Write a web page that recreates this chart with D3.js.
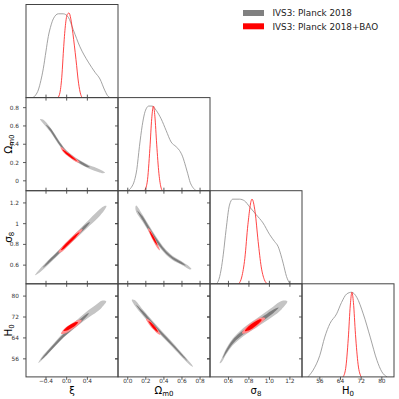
<!DOCTYPE html>
<html>
<head>
<meta charset="utf-8">
<script src="https://cdn.jsdelivr.net/npm/d3@7"></script>
<style>
body { margin: 0; background: #fff; }
text { font-family: "DejaVu Sans", sans-serif; }
</style>
</head>
<body>
<script>
// parameter ranges and ticks
var names = ["xi", "om", "s8", "h0"];
var xiDomain = [-0.787, 0.993];
var omDomain = [-0.108, 0.91];
var s8Domain = [0.42, 1.318];
var h0Domain = [49.1, 84.7];
var xiTicks = [-0.4, 0, 0.4];
var omTicks = [0, 0.2, 0.4, 0.6, 0.8];
var s8Ticks = [0.6, 0.8, 1.0, 1.2];
var h0Ticks = [56, 64, 72, 80];
var xiXLabels = ["\u22120.4", "0.0", "0.4"];
var omXLabels = ["0.0", "0.2", "0.4", "0.6", "0.8"];
var omYLabels = ["0", "0.2", "0.4", "0.6", "0.8"];
var s8XLabels = ["0.6", "0.8", "1.0", "1.2"];
var s8YLabels = ["0.6", "0.8", "1", "1.2"];
var h0Labels = ["56", "64", "72", "80"];
var legendLabels = ["IVS3: Planck 2018", "IVS3: Planck 2018+BAO"];

// 1D marginals [value, relative density]
var xiGrey = [[-0.652,0],[-0.60,0.03],[-0.549,0.09],[-0.50,0.2],[-0.453,0.34],[-0.40,0.55],[-0.356,0.72],[-0.30,0.86],[-0.259,0.93],[-0.162,0.99],[-0.066,0.99],[0.031,0.95],[0.128,0.80],[0.257,0.60],[0.418,0.42],[0.547,0.30],[0.644,0.22],[0.741,0.08],[0.80,0.015],[0.84,0]];
var xiRed = [[-0.17,0],[-0.13,0.06],[-0.09,0.28],[-0.066,0.52],[-0.03,0.82],[0.01,0.98],[0.045,1.0],[0.08,0.93],[0.12,0.76],[0.18,0.45],[0.23,0.17],[0.27,0.04],[0.3,0]];
var omGrey = [[0.0,0],[0.04,0.04],[0.074,0.12],[0.10,0.25],[0.129,0.52],[0.16,0.77],[0.185,0.91],[0.21,0.98],[0.232,1.0],[0.27,1.0],[0.314,0.95],[0.369,0.85],[0.425,0.71],[0.48,0.575],[0.535,0.52],[0.572,0.476],[0.608,0.40],[0.64,0.29],[0.664,0.20],[0.69,0.10],[0.719,0.04],[0.757,0]];
var omRed = [[0.185,0],[0.215,0.1],[0.245,0.5],[0.265,0.85],[0.284,1],[0.30,0.88],[0.32,0.55],[0.345,0.2],[0.37,0.03],[0.385,0]];
var s8Grey = [[0.479,0],[0.50,0.03],[0.528,0.165],[0.55,0.35],[0.577,0.64],[0.61,0.93],[0.642,1.0],[0.708,1.0],[0.757,0.98],[0.806,0.91],[0.872,0.815],[0.937,0.72],[1.003,0.58],[1.05,0.50],[1.085,0.44],[1.11,0.35],[1.134,0.244],[1.167,0.086],[1.2,0]];
var s8Red = [[0.70,0],[0.73,0.08],[0.76,0.3],[0.79,0.7],[0.83,1.0],[0.86,0.85],[0.89,0.5],[0.92,0.2],[0.95,0.05],[0.98,0]];
var h0Grey = [[51.4,0],[53.4,0.08],[56,0.255],[57.9,0.47],[59.9,0.63],[62.5,0.745],[64.4,0.88],[66.4,0.98],[68.3,1.0],[70.3,0.94],[72.8,0.745],[75.5,0.47],[78.1,0.196],[80,0.06],[82,0]];
var h0Red = [[65.0,0],[66.0,0.1],[67.0,0.45],[67.8,0.85],[68.4,1.0],[69.0,0.88],[69.8,0.5],[70.8,0.15],[72,0]];

// 2D contours: ridge [x, y, half-thickness in y units]
var omXiG95 = [[-0.516,0.674,0],[-0.458,0.650,0.020],[-0.323,0.564,0.024],[-0.130,0.401,0.024],[0.0,0.309,0.022],[0.193,0.226,0.020],[0.387,0.164,0.019],[0.580,0.120,0.019],[0.683,0.098,0.014],[0.741,0.087,0]];
var omXiG68 = [[-0.40,0.613,0],[-0.323,0.564,0.015],[-0.130,0.401,0.015],[0.0,0.309,0.014],[0.193,0.226,0.013],[0.387,0.164,0.012],[0.451,0.150,0]];
var omXiR95 = [[-0.120,0.366,0],[-0.091,0.349,0.017],[0,0.300,0.021],[0.103,0.257,0.021],[0.199,0.218,0.016],[0.257,0.202,0]];
var omXiR68 = [[-0.081,0.341,0],[0,0.300,0.013],[0.103,0.257,0.013],[0.199,0.218,0]];

var s8XiG95 = [[-0.613,0.503,0],[-0.516,0.549,0.017],[-0.323,0.642,0.021],[-0.130,0.736,0.023],[0.064,0.829,0.026],[0.257,0.922,0.029],[0.451,1.016,0.032],[0.644,1.109,0.032],[0.721,1.146,0.022],[0.770,1.170,0]];
var s8XiG68 = [[-0.458,0.578,0],[-0.381,0.615,0.011],[-0.130,0.736,0.014],[0.064,0.829,0.015],[0.257,0.922,0.016],[0.393,0.988,0.013],[0.451,1.016,0]];
var s8XiR95 = [[-0.159,0.722,0],[-0.110,0.745,0.02],[0,0.799,0.026],[0.122,0.858,0.026],[0.238,0.914,0.02],[0.306,0.947,0]];
var s8XiR68 = [[-0.110,0.745,0],[-0.052,0.773,0.014],[0.064,0.829,0.016],[0.180,0.885,0.013],[0.248,0.918,0]];

var h0XiG95 = [[-0.549,54.39,0],[-0.478,56.2,0.6],[-0.387,58.14,0.75],[-0.226,61.62,0.86],[-0.066,65.0,0.97],[0.097,67.89,1.12],[0.257,70.62,1.27],[0.418,73.14,1.42],[0.580,75.39,1.5],[0.677,76.89,1.31],[0.765,78.0,0]];
var h0XiG68 = [[-0.50,55.6,0],[-0.387,58.0,0.5],[-0.226,61.5,0.6],[-0.066,64.8,0.65],[0.097,67.7,0.7],[0.257,70.4,0.7],[0.38,72.6,0.5],[0.43,73.4,0]];
var h0XiR95 = [[-0.110,65.64,0],[-0.052,66.5,0.94],[0.097,68.3,1.2],[0.219,69.87,0.97],[0.290,70.81,0]];
var h0XiR68 = [[-0.062,66.69,0],[0.006,67.51,0.71],[0.103,68.64,0.75],[0.180,69.5,0.56],[0.219,69.95,0]];

var s8OmG95 = [[0.085,1.16,0],[0.093,1.144,0.032],[0.166,1.05,0.034],[0.221,0.971,0.033],[0.277,0.893,0.031],[0.351,0.80,0.027],[0.425,0.722,0.023],[0.498,0.668,0.02],[0.591,0.622,0.017],[0.683,0.572,0.013],[0.705,0.562,0]];
var s8OmG68 = [[0.105,1.128,0],[0.166,1.05,0.018],[0.221,0.971,0.019],[0.277,0.893,0.018],[0.351,0.80,0.016],[0.425,0.722,0.013],[0.498,0.668,0.011],[0.591,0.622,0.010],[0.64,0.597,0]];
var s8OmR95 = [[0.223,0.959,0],[0.246,0.921,0.023],[0.285,0.856,0.028],[0.323,0.795,0.024],[0.356,0.743,0]];
var s8OmR68 = [[0.240,0.931,0],[0.262,0.893,0.015],[0.296,0.842,0.017],[0.329,0.790,0]];

var h0OmG95 = [[0.045,78.6,0],[0.075,77.5,1.0],[0.166,73.74,1.15],[0.277,69.39,1.1],[0.387,65.26,1.0],[0.498,61.25,0.9],[0.608,57.12,0.75],[0.690,54.1,0.5],[0.722,53.0,0]];
var h0OmG68 = [[0.09,76.8,0],[0.166,73.74,0.55],[0.277,69.39,0.55],[0.387,65.26,0.5],[0.498,61.25,0.45],[0.608,57.12,0.35],[0.66,55.2,0]];
var h0OmR95 = [[0.201,71.37,0],[0.240,69.87,0.9],[0.284,68.19,0.97],[0.329,66.5,0.82],[0.362,65.19,0]];
var h0OmR68 = [[0.229,70.44,0],[0.262,69.12,0.6],[0.306,67.44,0.6],[0.334,66.31,0]];

var h0S8G95 = [[0.515,54.3,0],[0.535,55.5,0.7],[0.577,58.74,1.1],[0.642,62.49,1.3],[0.708,65.0,1.5],[0.790,67.51,1.6],[0.872,69.61,1.7],[0.954,71.86,1.8],[1.036,74.11,1.85],[1.118,76.51,1.6],[1.175,78.0,0]];
var h0S8G68 = [[0.545,56.3,0],[0.577,58.74,0.55],[0.642,62.49,0.7],[0.708,65.0,0.75],[0.790,67.51,0.8],[0.872,69.61,0.8],[0.954,71.86,0.8],[1.036,74.11,0.7],[1.09,75.6,0]];
var h0S8R95 = [[0.733,65.75,0],[0.767,66.87,1.12],[0.839,68.75,1.42],[0.905,70.44,1.2],[0.959,71.56,0]];
var h0S8R68 = [[0.762,66.69,0],[0.797,67.62,0.82],[0.846,68.94,0.94],[0.895,70.25,0.75],[0.924,71.0,0]];

var domains = {xi: xiDomain, om: omDomain, s8: s8Domain, h0: h0Domain};
var ticks = {xi: xiTicks, om: omTicks, s8: s8Ticks, h0: h0Ticks};
var xLabels = {xi: xiXLabels, om: omXLabels, s8: s8XLabels, h0: h0Labels};
var yLabels = {om: omYLabels, s8: s8YLabels, h0: h0Labels};
var marg = {xi: [xiGrey, xiRed], om: [omGrey, omRed], s8: [s8Grey, s8Red], h0: [h0Grey, h0Red]};
var contours = {
  om_xi: [omXiG95, omXiG68, omXiR95, omXiR68],
  s8_xi: [s8XiG95, s8XiG68, s8XiR95, s8XiR68],
  h0_xi: [h0XiG95, h0XiG68, h0XiR95, h0XiR68],
  s8_om: [s8OmG95, s8OmG68, s8OmR95, s8OmR68],
  h0_om: [h0OmG95, h0OmG68, h0OmR95, h0OmR68],
  h0_s8: [h0S8G95, h0S8G68, h0S8R95, h0S8R68]
};
var fills = ["#c4c4c4", "#7d7d7d", "#ff8c8c", "#ff0000"];

var L = 26, T = 4.5, PW = 92, PH = 93.1, TL = 3;

var svg = d3.select("body").append("svg")
    .attr("width", 399)
    .attr("height", 399);

function xScale(i) {
  return d3.scaleLinear().domain(domains[names[i]]).range([L + i * PW, L + (i + 1) * PW]);
}
function yScale(j) {
  return d3.scaleLinear().domain(domains[names[j]]).range([T + (j + 1) * PH, T + j * PH]);
}

function band(pts, xs, ys) {
  var up = pts.map(function (p) { return [xs(p[0]), ys(p[1] + p[2])]; });
  var lo = pts.filter(function (p) { return p[2] > 0; }).reverse()
      .map(function (p) { return [xs(p[0]), ys(p[1] - p[2])]; });
  return d3.line().curve(d3.curveCatmullRomClosed.alpha(0.5))(up.concat(lo));
}

var tickCol = "#333";

for (var r = 0; r < 4; r++) {
  for (var c = 0; c <= r; c++) {
    var xs = xScale(c);
    var x0 = L + c * PW, y0 = T + r * PH;
    var g = svg.append("g");
    var cid = "clip" + r + c;
    svg.append("clipPath").attr("id", cid).append("rect")
        .attr("x", x0).attr("y", y0).attr("width", PW).attr("height", PH);
    var body = g.append("g").attr("clip-path", "url(#" + cid + ")");

    if (r === c) {
      var yd = d3.scaleLinear().domain([0, 1.1]).range([y0 + PH, y0]);
      var line = d3.line().curve(d3.curveMonotoneX)
          .x(function (d) { return xs(d[0]); })
          .y(function (d) { return yd(d[1]); });
      body.append("path").attr("d", line(marg[names[c]][0]))
          .attr("fill", "none").attr("stroke", "#999").attr("stroke-width", 0.9);
      body.append("path").attr("d", line(marg[names[c]][1]))
          .attr("fill", "none").attr("stroke", "#ff3030").attr("stroke-width", 0.9);
    } else {
      var ys = yScale(r);
      contours[names[r] + "_" + names[c]].forEach(function (pts, k) {
        body.append("path").attr("d", band(pts, xs, ys)).attr("fill", fills[k]);
      });
      // y ticks on left and right edges
      ticks[names[r]].forEach(function (t) {
        var yy = ys(t);
        g.append("line").attr("x1", x0 - TL).attr("x2", x0).attr("y1", yy).attr("y2", yy)
            .attr("stroke", tickCol).attr("stroke-width", 0.8);
        g.append("line").attr("x1", x0 + PW - TL).attr("x2", x0 + PW).attr("y1", yy).attr("y2", yy)
            .attr("stroke", tickCol).attr("stroke-width", 0.8);
      });
      // x ticks on top
      ticks[names[c]].forEach(function (t) {
        var xx = xs(t);
        g.append("line").attr("x1", xx).attr("x2", xx).attr("y1", y0 - TL).attr("y2", y0)
            .attr("stroke", tickCol).attr("stroke-width", 0.8);
      });
    }
    // x ticks on bottom
    ticks[names[c]].forEach(function (t) {
      var xx = xs(t);
      g.append("line").attr("x1", xx).attr("x2", xx).attr("y1", y0 + PH).attr("y2", y0 + PH + TL)
          .attr("stroke", tickCol).attr("stroke-width", 0.8);
    });
    g.append("rect").attr("x", x0).attr("y", y0).attr("width", PW).attr("height", PH)
        .attr("fill", "none").attr("stroke", "#444").attr("stroke-width", 1);
  }
}

// tick labels
var tickFont = 5.8;
for (var i = 0; i < 4; i++) {
  var xs2 = xScale(i);
  ticks[names[i]].forEach(function (t, k) {
    svg.append("text").attr("x", xs2(t)).attr("y", 383.3)
        .attr("text-anchor", "middle").attr("font-size", tickFont).attr("fill", "#333")
        .text(xLabels[names[i]][k]);
  });
}
for (var j = 1; j < 4; j++) {
  var ys2 = yScale(j);
  ticks[names[j]].forEach(function (t, k) {
    svg.append("text").attr("x", L - 7).attr("y", ys2(t) + 2)
        .attr("text-anchor", "end").attr("font-size", tickFont).attr("fill", "#333")
        .text(yLabels[names[j]][k]);
  });
}

// axis titles
var titleSym = {xi: ["\u03be", ""], om: ["\u03a9", "m0"], s8: ["\u03c3", "8"], h0: ["H", "0"]};
function title(sel, key) {
  sel.append("tspan").text(titleSym[key][0]);
  if (titleSym[key][1]) {
    sel.append("tspan").attr("font-size", 7).attr("dy", 2).text(titleSym[key][1]);
  }
}
for (var i2 = 0; i2 < 4; i2++) {
  var tx = svg.append("text").attr("x", L + (i2 + 0.5) * PW).attr("y", 394.2)
      .attr("text-anchor", "middle").attr("font-size", 10).attr("fill", "#000");
  title(tx, names[i2]);
}
for (var j2 = 1; j2 < 4; j2++) {
  var cy = T + (j2 + 0.5) * PH;
  var ty = svg.append("text").attr("transform", "translate(12," + cy + ") rotate(-90)")
      .attr("text-anchor", "middle").attr("font-size", 10.5).attr("fill", "#000");
  title(ty, names[j2]);
}

// legend
var legendColors = ["#808080", "#ff0000"];
legendLabels.forEach(function (lab, k) {
  var ly = 10 + k * 13.3;
  svg.append("rect").attr("x", 243).attr("y", ly).attr("width", 21).attr("height", 6)
      .attr("fill", legendColors[k]);
  svg.append("text").attr("x", 272.5).attr("y", ly + 6.3).attr("font-size", 8.8)
      .attr("fill", "#222").text(lab);
});
</script>
</body>
</html>
